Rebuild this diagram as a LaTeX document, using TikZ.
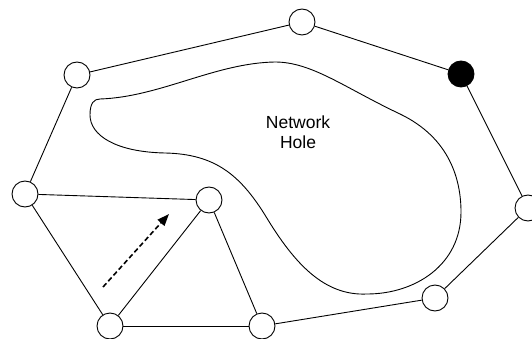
\documentclass[tikz,border=0pt]{standalone}
\usepackage{fontspec}
\setmainfont{Liberation Sans}
\usetikzlibrary{arrows.meta}
\begin{document}
\begin{tikzpicture}[x=1pt,y=-1pt,
  sensor/.style={circle,draw,fill=white,line width=0.9pt,minimum size=26pt,inner sep=0pt},
  boundary/.style={sensor,fill=black},
  link/.style={line width=0.9pt},
  hole/.style={line width=0.9pt},
  move/.style={line width=1.6pt,dash pattern=on 5pt off 2.8pt,-{Triangle[length=12pt,width=9pt]}}]
\useasboundingbox (0,0) rectangle (532,339);
\clip (0,0) rectangle (532,339);
% network hole
\draw[hole] (100,99) .. controls (160,97) and (215,63) .. (275,62)
 .. controls (312,62) and (345,88) .. (400,114)
 .. controls (450,138) and (461,180) .. (461,212)
 .. controls (461,265) and (415,294) .. (367,294)
 .. controls (325,296) and (295,265) .. (265,215)
 .. controls (240,175) and (215,154) .. (165,153)
 .. controls (115,152) and (90,135) .. (90,115)
 .. controls (90,103) and (94,99) .. (100,99) -- cycle;
\node[font=\fontsize{17.5}{20}\selectfont,align=center] (holetext) at (298,132) {Network\\Hole};
% sensors
\node[sensor] (a) at (77,75) {};
\node[sensor] (b) at (302,22) {};
\node[boundary] (c) at (461,74) {};
\node[sensor] (d) at (528,208) {};
\node[sensor] (e) at (435,298) {};
\node[sensor] (f) at (262,326) {};
\node[sensor] (g) at (110,326) {};
\node[sensor] (h) at (25,194) {};
\node[sensor] (i) at (209,200) {};
% links
\draw[link] (a) -- (b);
\draw[link] (b) -- (c);
\draw[link] (c) -- (d);
\draw[link] (d) -- (e);
\draw[link] (e) -- (f);
\draw[link] (f) -- (g);
\draw[link] (g) -- (h);
\draw[link] (h) -- (a);
\draw[link] (h) -- (i);
\draw[link] (g) -- (i);
\draw[link] (i) -- (f);
% movement arrow
\coordinate (m1) at (103,287);
\coordinate (m2) at (169,214);
\draw[move] (m1) -- (m2);
\end{tikzpicture}
\end{document}
